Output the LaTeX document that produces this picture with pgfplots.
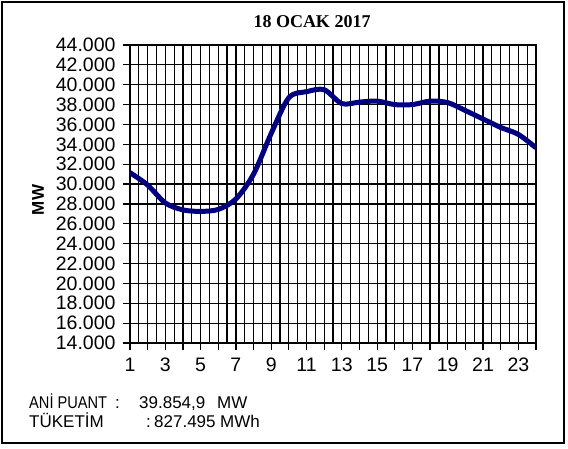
\documentclass[border=0pt]{standalone}
\usepackage{pgfplots}
\pgfplotsset{compat=1.18}
\usepackage{fontspec}
\setmainfont{Liberation Sans}
\newfontfamily\timesfont{Liberation Serif}
\definecolor{navyline}{RGB}{0,0,128}

\begin{document}
\begin{tikzpicture}[x=1pt,y=1pt]
\path[use as bounding box] (0,0) rectangle (568,448);
\draw[line width=1.5pt] (2,5) rectangle (564,446);
\begin{axis}[
  at={(130pt,105pt)}, anchor=south west,
  scale only axis, width=406pt, height=298pt,
  xmin=1, xmax=24, ymin=14000, ymax=44000,
  xtick={1,...,24},
  xticklabels={1,,3,,5,,7,,9,,11,,13,,15,,17,,19,,21,,23,},
  minor x tick num=1,
  ytick={14000,16000,...,44000},
  scaled y ticks=false,
  tick pos=left, tick align=outside,
  major tick length=7pt, minor tick length=0pt,
  grid=both,
  major grid style={black, line width=1.2pt},
  minor grid style={black, line width=1.2pt},
  axis line style={black, line width=1.5pt},
  every tick/.style={black, line width=1.2pt},
  tick label style={font=\fontsize{19.5}{20}\selectfont},
  /pgf/number format/assume math mode=true,
  yticklabel style={/pgf/number format/1000 sep={.}, xshift=-4pt},
  xticklabel style={text height=13pt, text depth=0pt, yshift=-5pt},
]
\addplot[navyline, line width=5pt, smooth] coordinates {
  (1,31150) (2,29900) (3,28100) (4,27400) (5,27250) (6,27450)
  (7,28500) (8,31000) (9,35100) (10,38700) (11,39300) (12,39500)
  (13,38100) (14,38250) (15,38350) (16,38000) (17,38000) (18,38350)
  (19,38200) (20,37400) (21,36550) (22,35700) (23,35000) (24,33650)};
\end{axis}
\node[font=\timesfont\bfseries\fontsize{18}{20}\selectfont] at (312,426) {18 OCAK 2017};
\node[rotate=90, font=\bfseries\fontsize{17}{18}\selectfont] at (38,248) {MW};
\begin{scope}[every node/.style={anchor=base west, inner sep=0pt, font=\fontsize{17}{18}\selectfont}]
\node at (29,40) {\scalebox{0.86}[1]{ANİ PUANT}};
\node at (115,40) {:};
\node at (139,40) {39.854,9};
\node at (217,40) {MW};
\node at (29,21) {TÜKETİM};
\node at (146,21) {:};
\node at (154,21) {827.495};
\node at (220,21) {MWh};
\end{scope}
\end{tikzpicture}
\end{document}
